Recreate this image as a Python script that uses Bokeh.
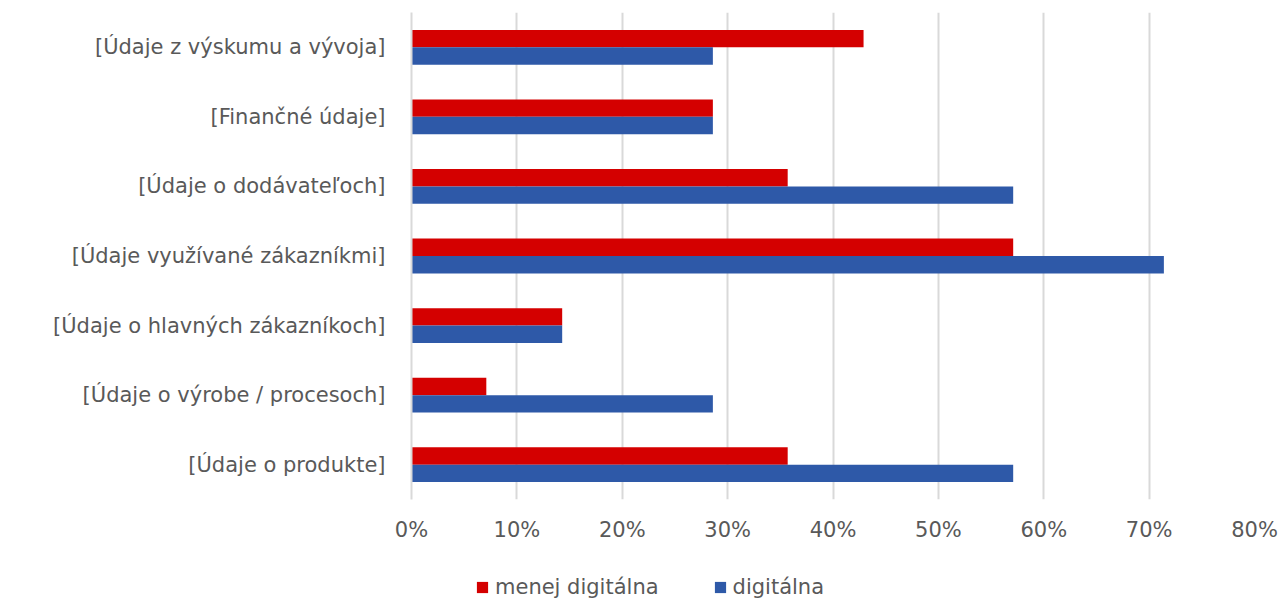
from bokeh.plotting import figure
from bokeh.layouts import column
from bokeh.models import ColumnDataSource, FactorRange, Range1d, NumeralTickFormatter, FixedTicker, Legend, LegendItem
from bokeh.transform import dodge
from bokeh.embed import file_html
from bokeh.resources import INLINE

categories = [
    "[Údaje z výskumu a vývoja]",
    "[Finančné údaje]",
    "[Údaje o dodávateľoch]",
    "[Údaje využívané zákazníkmi]",
    "[Údaje o hlavných zákazníkoch]",
    "[Údaje o výrobe / procesoch]",
    "[Údaje o produkte]",
]
series_names = ["menej digitálna", "digitálna"]
menej_digitalna = [0.429, 0.286, 0.357, 0.571, 0.143, 0.071, 0.357]
digitalna = [0.286, 0.286, 0.571, 0.714, 0.143, 0.286, 0.571]
x_ticks = [0.0, 0.1, 0.2, 0.3, 0.4, 0.5, 0.6, 0.7, 0.8]

RED = "#D40000"
BLUE = "#2E59A8"
TEXT = "#595959"
FONT = "DejaVu Sans"
FS = "21px"

src = ColumnDataSource(dict(cat=categories, menej=menej_digitalna, dig=digitalna))

p = figure(
    width=1282, height=560,
    y_range=FactorRange(*list(reversed(categories)), range_padding=0),
    x_range=Range1d(0, 0.8),
    output_backend="svg", toolbar_location=None,
    min_border_left=411, min_border_right=28, min_border_top=12, min_border_bottom=61,
)
p.outline_line_color = None

p.hbar(y=dodge("cat", 0.125, range=p.y_range), right="menej", left=0, height=0.25,
       source=src, color=RED, line_color=None)
p.hbar(y=dodge("cat", -0.125, range=p.y_range), right="dig", left=0, height=0.25,
       source=src, color=BLUE, line_color=None)

p.xaxis.ticker = FixedTicker(ticks=x_ticks)
p.xaxis.formatter = NumeralTickFormatter(format="0%")
p.xaxis.axis_line_color = None
p.xaxis.major_tick_line_color = None
p.xaxis.minor_tick_line_color = None
p.xaxis.major_label_text_font = FONT
p.xaxis.major_label_text_font_size = FS
p.xaxis.major_label_text_color = TEXT
p.xaxis.major_label_standoff = 12

p.yaxis.axis_line_color = "#d9d9d9"
p.yaxis.axis_line_width = 2
p.yaxis.major_tick_line_color = None
p.yaxis.minor_tick_line_color = None
p.yaxis.major_label_text_font = FONT
p.yaxis.major_label_text_font_size = FS
p.yaxis.major_label_text_color = TEXT
p.yaxis.major_label_standoff = 20

p.xgrid.grid_line_color = "#d9d9d9"
p.xgrid.grid_line_width = 2
p.ygrid.grid_line_color = None

# legend strip below the chart (its frame is aligned with the chart's frame)
lg = figure(width=1282, height=41, output_backend="svg", toolbar_location=None,
            x_range=Range1d(0, 1), y_range=Range1d(0, 1),
            min_border_left=0, min_border_right=0, min_border_top=0, min_border_bottom=0)
lg.axis.visible = False
lg.grid.visible = False
lg.outline_line_color = None
dummy = ColumnDataSource(dict(y=[5], right=[0]))
g1 = lg.hbar(y="y", right="right", height=0.5, source=dummy, color=RED, line_color=None)
g2 = lg.hbar(y="y", right="right", height=0.5, source=dummy, color=BLUE, line_color=None)

legend = Legend(
    items=[LegendItem(label=series_names[0], renderers=[g1]),
           LegendItem(label=series_names[1], renderers=[g2])],
    orientation="horizontal",
    location=(64, 2),
    padding=0, margin=0, spacing=54,
    glyph_width=14, glyph_height=14, label_standoff=6,
    label_text_font=FONT, label_text_font_size=FS, label_text_color=TEXT,
    border_line_color=None, background_fill_alpha=0,
)
lg.add_layout(legend, "center")

open("out.html", "w").write(file_html(column(p, lg, spacing=0), INLINE))
